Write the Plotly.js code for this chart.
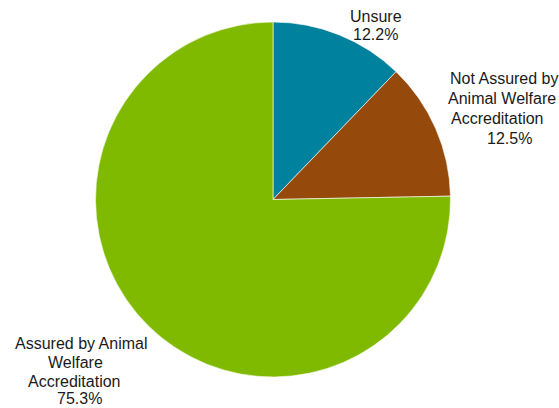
<!DOCTYPE html>
<html>
<head>
<meta charset="utf-8">
<script src="https://cdn.plot.ly/plotly-3.0.1.min.js"></script>
<style>
html, body { margin: 0; padding: 0; background: #fff; }
#chart { width: 559px; height: 408px; }
</style>
</head>
<body>
<div id="chart"></div>
<script>
// Data
const categories = ["Unsure", "Not Assured by Animal Welfare Accreditation", "Assured by Animal Welfare Accreditation"];
const values = [12.2, 12.5, 75.3];
const colors = ["#00819D", "#954A0B", "#7FBA00"];
// Label lines as they appear in the chart
const labelLines = [
  ["Unsure", "12.2%"],
  ["Not Assured by", "Animal Welfare", "Accreditation", "12.5%"],
  ["Assured by Animal", "Welfare", "Accreditation", "75.3%"]
];

// Layout (pixel positions of each label line centre)
const W = 559, H = 408;
const linePos = [
  [[376, 17], [375, 34]],
  [[504, 78], [502, 98], [497, 118], [509, 138]],
  [[81, 343], [75, 362], [74, 381], [79, 398]]
];

const annotations = [];
labelLines.forEach((lines, i) => {
  lines.forEach((t, j) => {
    const p = linePos[i][j];
    annotations.push({
      text: t, xref: "paper", yref: "paper",
      x: p[0] / W, y: 1 - p[1] / H,
      xanchor: "center", yanchor: "middle", showarrow: false,
      font: { family: "Liberation Sans, Arial, sans-serif", size: 16, color: "#1a1a1a" }
    });
  });
});

const cx = 273, cy = 199.5, r = 177.5;
const trace = {
  type: "pie",
  labels: categories,
  values: values,
  sort: false,
  direction: "clockwise",
  rotation: 0,
  textinfo: "none",
  hoverinfo: "label+percent",
  marker: { colors: colors, line: { color: "#ffffff", width: 0.6 } },
  domain: { x: [(cx - r) / W, (cx + r) / W], y: [1 - (cy + r) / H, 1 - (cy - r) / H] },
  showlegend: false
};

const layout = {
  width: W, height: H,
  margin: { l: 0, r: 0, t: 0, b: 0 },
  paper_bgcolor: "#ffffff",
  showlegend: false,
  annotations: annotations
};

Plotly.newPlot("chart", [trace], layout, { displayModeBar: false, staticPlot: true });
</script>
</body>
</html>
